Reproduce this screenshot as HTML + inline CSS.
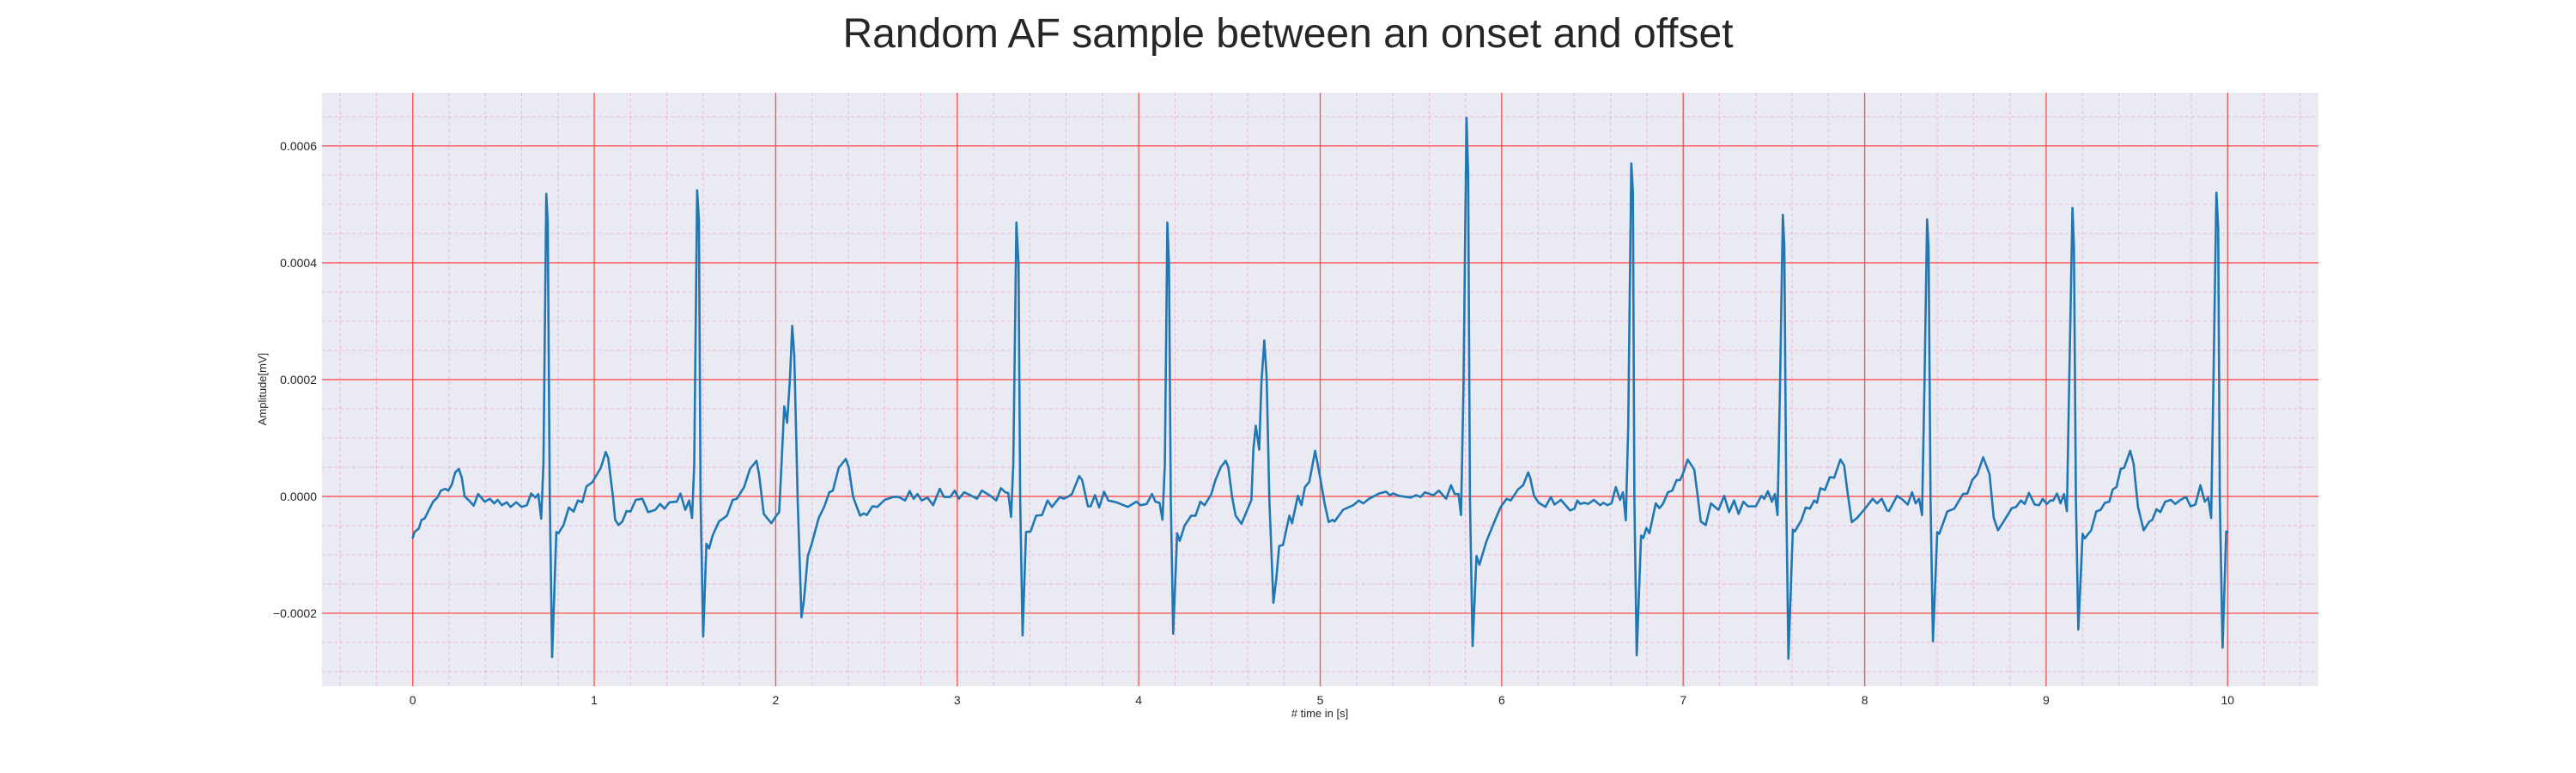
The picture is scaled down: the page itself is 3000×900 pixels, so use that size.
<!DOCTYPE html>
<html><head><meta charset="utf-8"><style>
html,body{margin:0;padding:0;background:#fff;}
svg{display:block;font-family:"Liberation Sans",Arial,sans-serif;}
</style></head><body>
<svg id="chart" width="3000" height="900" viewBox="0 0 3000 900" xmlns="http://www.w3.org/2000/svg">
<text x="1500" y="55" text-anchor="middle" font-size="48" fill="#262626">Random AF sample between an onset and offset</text>
<rect x="375" y="108" width="2325" height="691" fill="#EAEAF2"/>
<g id="minor-grid"></g>
<g id="major-grid"></g>
<g id="x-ticks"></g>
<g id="y-ticks"></g>
<text x="1537" y="835" text-anchor="middle" font-size="13" fill="#262626"># time in [s]</text>
<text x="0" y="0" transform="translate(310,453) rotate(-90)" text-anchor="middle" font-size="13" fill="#262626">Amplitude[mV]</text>
<g id="series"></g>
</svg>
<script>
const xTickValues = [0,1,2,3,4,5,6,7,8,9,10];
const xTickLabels = ["0","1","2","3","4","5","6","7","8","9","10"];
const yTickValues = [-2,0,2,4,6]; // units of 1e-4 mV
const yTickLabels = ["\u22120.0002","0.0000","0.0002","0.0004","0.0006"];
const times = [0,0.01,0.033,0.049,0.065,0.112,0.136,0.155,0.18,0.196,0.215,0.234,0.254,0.27,0.286,0.31,0.336,0.36,0.397,0.425,0.449,0.468,0.491,0.518,0.539,0.57,0.6,0.629,0.652,0.676,0.692,0.708,0.72,0.736,0.744,0.755,0.768,0.791,0.803,0.831,0.86,0.886,0.91,0.934,0.957,0.989,1.036,1.063,1.077,1.103,1.115,1.134,1.155,1.178,1.2,1.229,1.265,1.297,1.336,1.363,1.387,1.415,1.455,1.475,1.502,1.523,1.539,1.551,1.567,1.577,1.586,1.6,1.618,1.633,1.652,1.687,1.731,1.763,1.786,1.826,1.858,1.894,1.908,1.934,1.976,2.003,2.019,2.032,2.047,2.063,2.079,2.091,2.102,2.121,2.142,2.155,2.177,2.197,2.237,2.268,2.295,2.315,2.347,2.386,2.402,2.426,2.465,2.486,2.502,2.533,2.56,2.6,2.647,2.678,2.713,2.738,2.76,2.781,2.804,2.836,2.867,2.904,2.927,2.962,2.986,3.009,3.038,3.073,3.109,3.136,3.183,3.215,3.241,3.265,3.281,3.297,3.309,3.326,3.338,3.347,3.36,3.379,3.404,3.435,3.467,3.498,3.522,3.566,3.585,3.609,3.632,3.672,3.688,3.72,3.735,3.759,3.782,3.809,3.833,3.877,3.94,3.987,4.01,4.044,4.073,4.092,4.115,4.131,4.144,4.158,4.167,4.177,4.19,4.212,4.226,4.253,4.289,4.313,4.34,4.363,4.4,4.423,4.452,4.479,4.494,4.515,4.534,4.566,4.605,4.621,4.632,4.645,4.664,4.676,4.692,4.705,4.72,4.742,4.758,4.774,4.795,4.83,4.845,4.877,4.897,4.916,4.94,4.972,5.0,5.024,5.047,5.068,5.079,5.126,5.182,5.213,5.237,5.269,5.324,5.363,5.384,5.403,5.434,5.498,5.529,5.553,5.577,5.624,5.654,5.694,5.721,5.741,5.762,5.776,5.789,5.806,5.815,5.825,5.84,5.861,5.877,5.916,5.964,5.995,6.027,6.05,6.09,6.118,6.146,6.157,6.178,6.204,6.241,6.271,6.291,6.326,6.377,6.401,6.417,6.433,6.456,6.476,6.508,6.542,6.561,6.582,6.605,6.629,6.652,6.668,6.684,6.697,6.714,6.723,6.731,6.744,6.768,6.781,6.797,6.814,6.849,6.869,6.888,6.916,6.94,6.964,6.983,6.998,7.025,7.061,7.08,7.097,7.124,7.153,7.175,7.195,7.226,7.253,7.281,7.305,7.332,7.357,7.4,7.431,7.447,7.467,7.489,7.505,7.52,7.533,7.549,7.557,7.568,7.58,7.604,7.615,7.651,7.675,7.698,7.722,7.737,7.756,7.781,7.808,7.832,7.866,7.887,7.903,7.929,7.958,8.002,8.044,8.068,8.094,8.123,8.134,8.179,8.21,8.237,8.261,8.281,8.3,8.316,8.329,8.344,8.352,8.363,8.376,8.4,8.411,8.455,8.494,8.542,8.566,8.593,8.621,8.653,8.688,8.711,8.735,8.771,8.811,8.834,8.861,8.882,8.905,8.937,8.961,8.981,9.003,9.024,9.039,9.06,9.079,9.098,9.114,9.126,9.145,9.153,9.164,9.177,9.201,9.212,9.248,9.276,9.3,9.324,9.348,9.367,9.387,9.411,9.43,9.463,9.482,9.506,9.537,9.569,9.585,9.608,9.629,9.656,9.687,9.711,9.74,9.771,9.795,9.822,9.85,9.874,9.893,9.909,9.921,9.938,9.948,9.957,9.972,9.992,10.0];
const amplitudes = [-0.71,-0.61,-0.55,-0.40,-0.38,-0.09,-0.02,0.10,0.13,0.10,0.20,0.41,0.47,0.32,0.0,-0.07,-0.16,0.04,-0.09,-0.04,-0.12,-0.06,-0.15,-0.1,-0.18,-0.1,-0.18,-0.15,0.05,-0.02,0.04,-0.38,0.56,5.18,4.7,-0.06,-2.75,-0.61,-0.63,-0.49,-0.19,-0.26,-0.07,-0.10,0.17,0.24,0.49,0.76,0.66,0.0,-0.40,-0.49,-0.43,-0.25,-0.26,-0.06,-0.04,-0.27,-0.23,-0.13,-0.21,-0.1,-0.09,0.05,-0.23,-0.07,-0.37,0.56,5.24,4.71,-0.06,-2.4,-0.81,-0.89,-0.67,-0.43,-0.33,-0.06,-0.04,0.16,0.47,0.61,0.38,-0.30,-0.46,-0.33,-0.27,0.56,1.54,1.26,2.05,2.92,2.42,-0.06,-2.07,-1.79,-1.02,-0.83,-0.37,-0.17,0.07,0.10,0.49,0.64,0.50,-0.01,-0.33,-0.29,-0.32,-0.17,-0.18,-0.06,-0.01,-0.01,-0.07,0.09,-0.04,0.04,-0.07,-0.02,-0.15,0.13,-0.01,-0.01,0.10,-0.04,0.07,0.02,-0.04,0.10,0.01,-0.07,0.14,0.07,0.06,-0.35,0.56,4.69,3.97,-0.06,-2.38,-0.61,-0.6,-0.33,-0.32,-0.07,-0.18,-0.01,-0.04,-0.01,0.04,0.35,0.28,-0.17,-0.17,0.02,-0.19,0.08,-0.07,-0.1,-0.18,-0.09,-0.15,-0.13,0.04,-0.09,-0.11,-0.40,0.56,4.69,3.97,-0.06,-2.35,-0.63,-0.76,-0.50,-0.33,-0.33,-0.09,-0.15,0.04,0.28,0.50,0.61,0.50,-0.02,-0.33,-0.47,-0.18,-0.06,0.81,1.21,0.80,1.93,2.67,2.05,-0.06,-1.82,-1.42,-0.85,-0.83,-0.33,-0.46,0.01,-0.15,0.16,0.25,0.78,0.32,-0.12,-0.44,-0.40,-0.43,-0.23,-0.15,-0.07,-0.12,-0.04,0.05,0.08,0.02,0.05,0.01,-0.02,0.02,-0.01,0.07,0.02,0.10,-0.04,0.19,0.04,0.04,-0.32,1.80,6.48,5.52,-0.06,-2.56,-1.02,-1.17,-0.77,-0.40,-0.18,-0.04,-0.07,0.12,0.19,0.41,0.32,0.01,-0.11,-0.18,-0.01,-0.14,-0.06,-0.24,-0.21,-0.07,-0.13,-0.11,-0.13,-0.06,-0.15,-0.11,-0.15,-0.12,0.16,-0.06,0.07,-0.41,1.18,5.70,5.21,-0.06,-2.72,-0.67,-0.71,-0.54,-0.63,-0.12,-0.2,-0.13,0.07,0.10,0.28,0.28,0.38,0.63,0.46,0.01,-0.43,-0.49,-0.12,-0.18,-0.23,0.01,-0.27,-0.07,-0.3,-0.09,-0.17,-0.17,0.01,-0.04,0.09,-0.09,0.04,-0.32,1.80,4.82,4.28,-0.06,-2.78,-0.57,-0.6,-0.41,-0.19,-0.21,-0.07,-0.11,0.14,0.11,0.33,0.32,0.63,0.53,0.13,-0.44,-0.37,-0.21,-0.04,-0.12,-0.04,-0.24,-0.25,0.01,-0.06,-0.14,0.07,-0.12,-0.04,-0.32,1.80,4.74,4.28,-0.06,-2.48,-0.61,-0.64,-0.26,-0.21,0.04,0.05,0.28,0.38,0.67,0.38,-0.37,-0.58,-0.40,-0.2,-0.18,-0.07,-0.13,0.06,-0.14,-0.15,-0.04,-0.13,-0.07,-0.07,0.05,-0.12,0.04,-0.25,1.80,4.94,4.28,-0.06,-2.28,-0.64,-0.72,-0.58,-0.26,-0.23,-0.11,-0.09,0.12,0.16,0.47,0.49,0.78,0.56,-0.18,-0.58,-0.43,-0.40,-0.22,-0.27,-0.09,-0.06,-0.13,-0.06,-0.01,-0.17,-0.14,0.19,-0.09,-0.02,-0.37,1.80,5.20,4.59,-0.06,-2.59,-0.60,-0.61];

const NS='http://www.w3.org/2000/svg';
const PL=375, PR=2700, PT=108, PB=799;
const XMIN=-0.5, XMAX=10.5, YMIN=-3.25, YMAX=6.91;
function xs(t){return PL+(t-XMIN)/(XMAX-XMIN)*(PR-PL);}
function ys(v){return PB-(v-YMIN)/(YMAX-YMIN)*(PB-PT);}
function mk(tag,attrs,parent){const e=document.createElementNS(NS,tag);for(const k in attrs)e.setAttribute(k,attrs[k]);parent.appendChild(e);return e;}

const minor=document.getElementById('minor-grid');
for(let i=-2;i<=52;i++){const t=i*0.2; if(t<XMIN||t>XMAX) continue;
  const l=mk('line',{x1:xs(t),x2:xs(t),y1:PT,y2:PB,stroke:'rgba(240,130,210,0.5)','stroke-width':1,'stroke-dasharray':'4,3'},minor);
  
  }
for(let i=-6;i<=13;i++){const v=i*0.5; if(v<YMIN||v>YMAX) continue;
  const l=mk('line',{x1:PL,x2:PR,y1:ys(v),y2:ys(v),stroke:'rgba(240,130,210,0.5)','stroke-width':1,'stroke-dasharray':'4,3'},minor);
  
  }

const major=document.getElementById('major-grid');
const xt=document.getElementById('x-ticks');
xTickValues.forEach((t,i)=>{
  const l=mk('line',{x1:xs(t),x2:xs(t),y1:PT,y2:PB,stroke:'#ff4d4d','stroke-width':1.3},major);
  
  
  const tx=mk('text',{x:xs(t),y:PB+21,'text-anchor':'middle','font-size':14,fill:'#262626'},xt);
  tx.textContent=xTickLabels[i];
  
  
});
const yt=document.getElementById('y-ticks');
yTickValues.forEach((v,i)=>{
  const l=mk('line',{x1:PL,x2:PR,y1:ys(v),y2:ys(v),stroke:'#ff4d4d','stroke-width':1.3},major);
  
  
  const tx=mk('text',{x:PL-6,y:ys(v)+5,'text-anchor':'end','font-size':14,fill:'#262626'},yt);
  tx.textContent=yTickLabels[i];
  
  
});

const series=document.getElementById('series');
let d='';
times.forEach((t,i)=>{d+=(i?'L':'M')+xs(t).toFixed(1)+','+ys(amplitudes[i]).toFixed(1);});
const p=mk('path',{d:d,fill:'none',stroke:'#1f77b4','stroke-width':2.6,'stroke-linejoin':'round','stroke-linecap':'round'},series);


</script>
</body></html>
